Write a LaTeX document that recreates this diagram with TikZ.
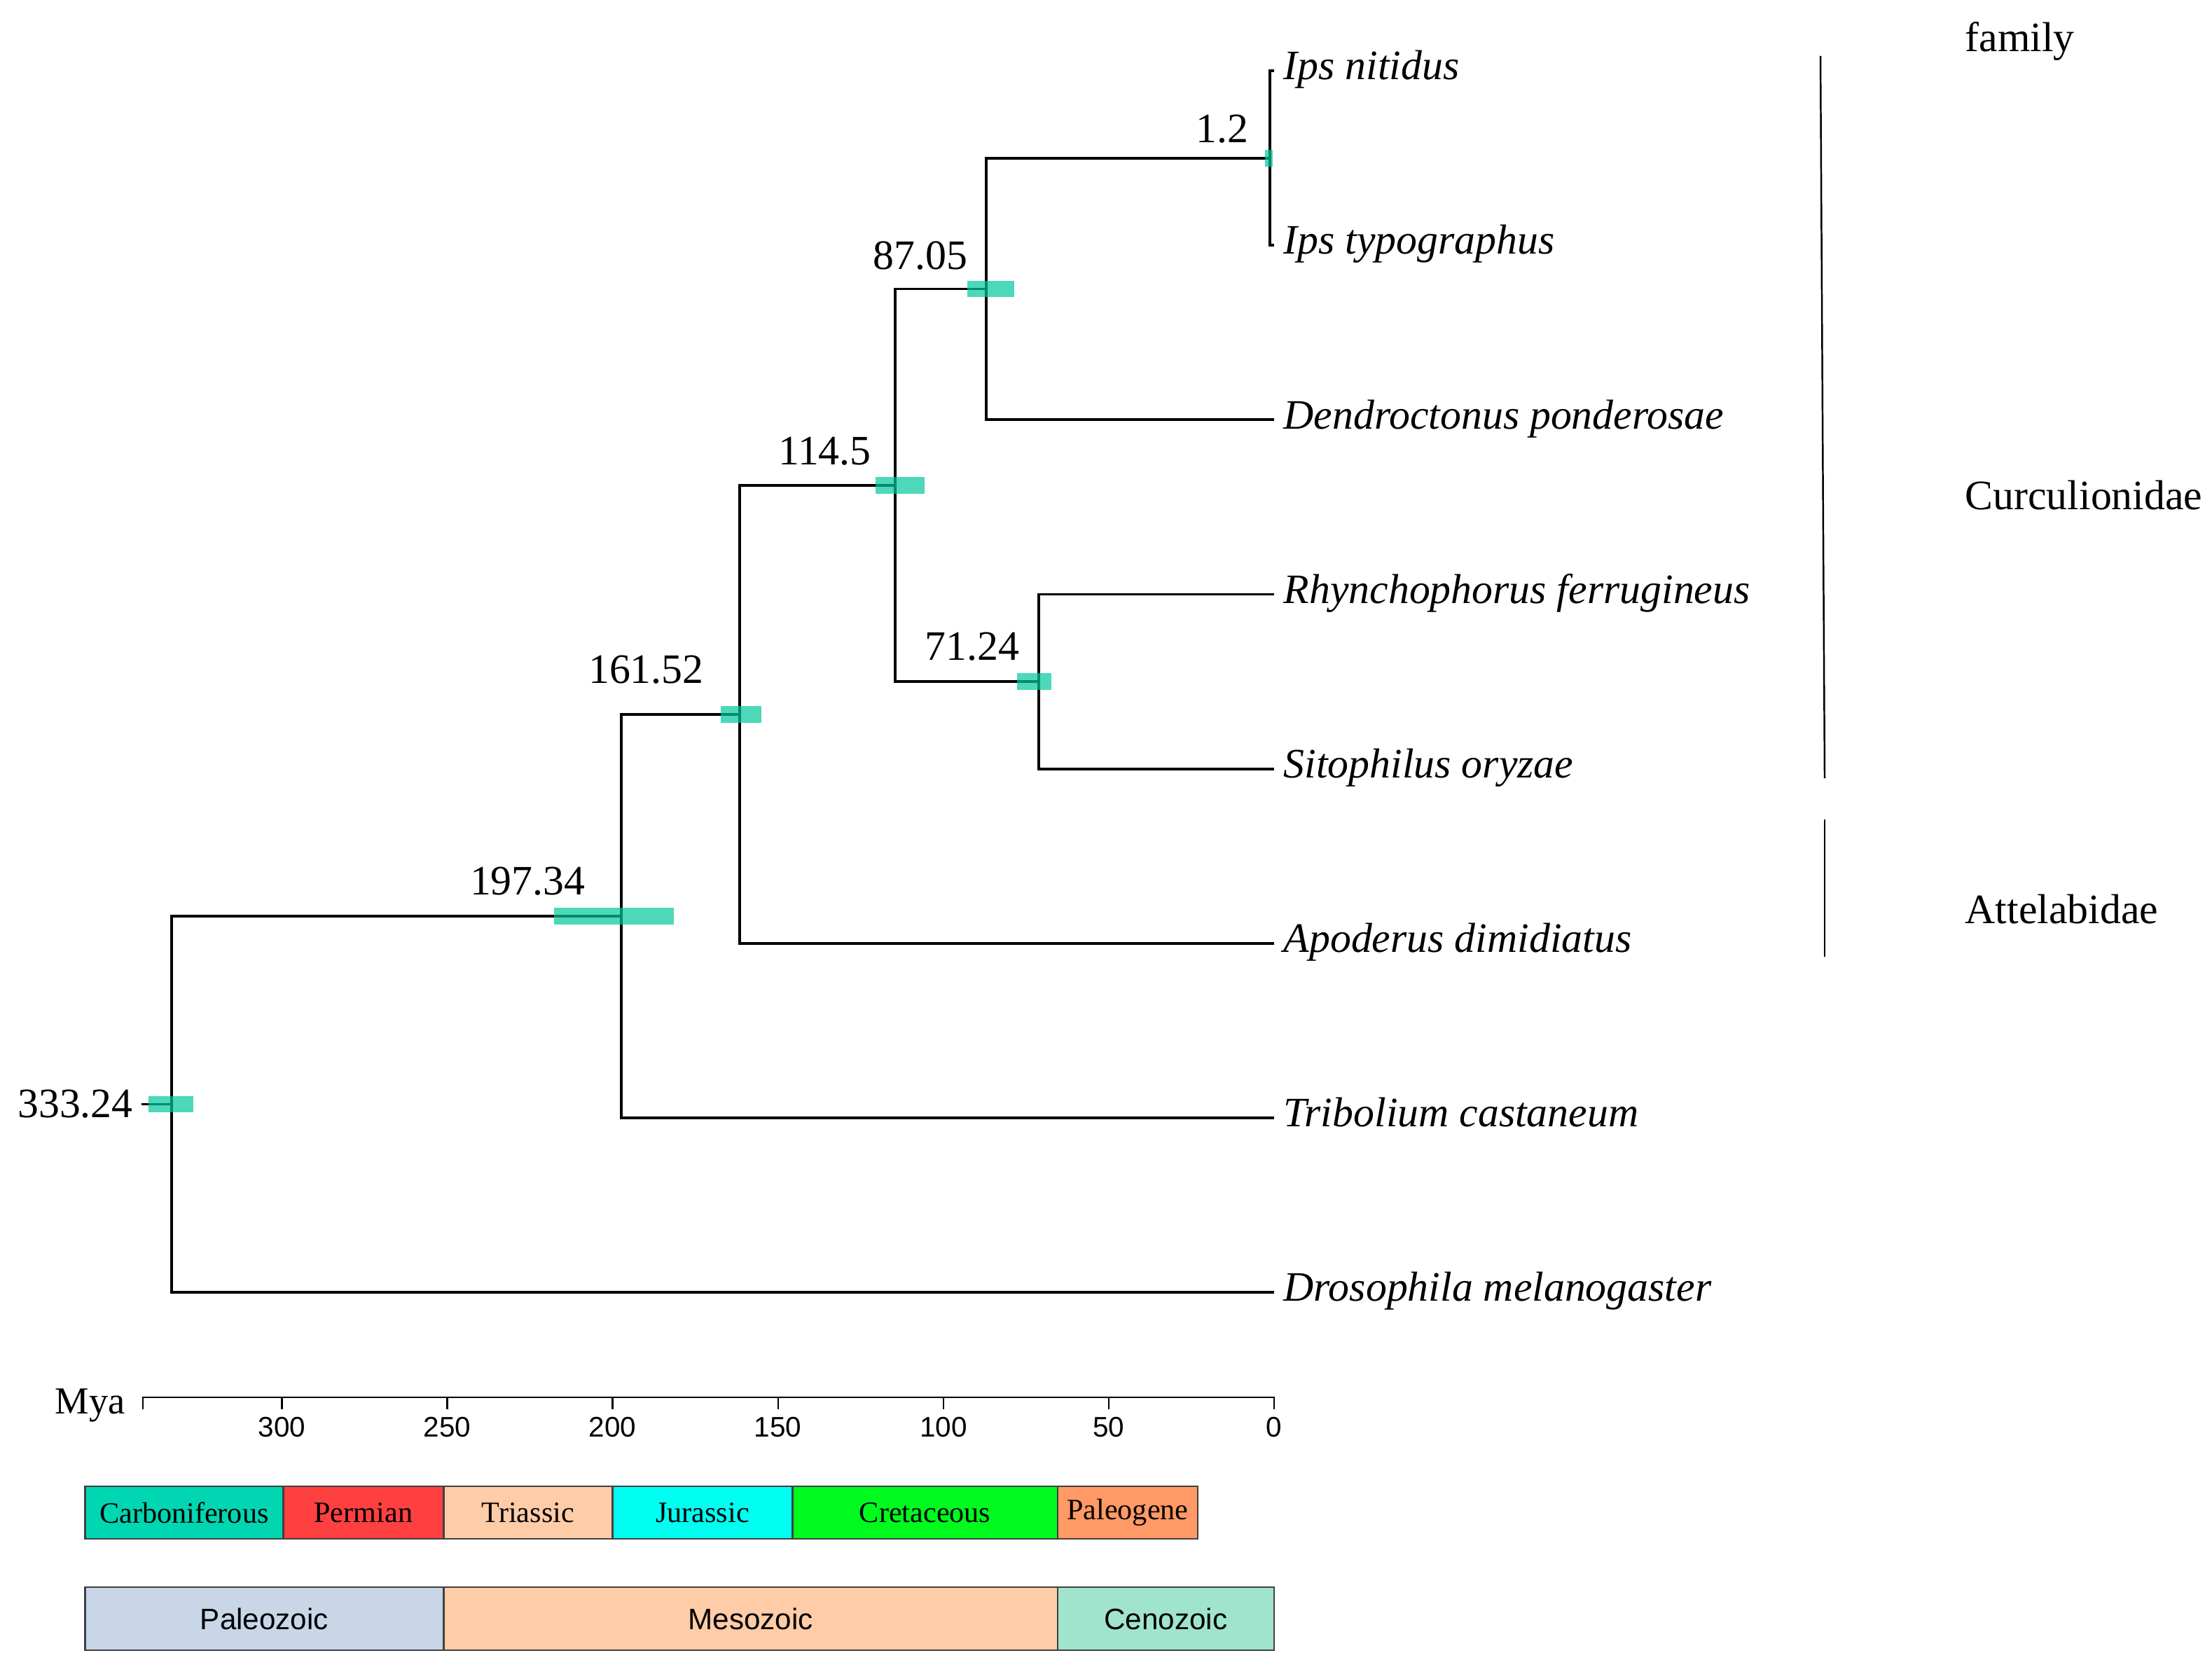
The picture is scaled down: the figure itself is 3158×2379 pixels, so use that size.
\documentclass[tikz,border=0pt]{standalone}
\usepackage{fontspec}
\setmainfont{Liberation Serif}
\setsansfont{Liberation Sans}
\usetikzlibrary{positioning}
\definecolor{hpdcol}{RGB}{0,200,155}
\definecolor{carbcol}{RGB}{0,214,178}
\definecolor{permcol}{RGB}{255,64,64}
\definecolor{triacol}{RGB}{255,204,168}
\definecolor{juracol}{RGB}{0,255,240}
\definecolor{cretcol}{RGB}{0,250,30}
\definecolor{paleocol}{RGB}{255,153,102}
\definecolor{pzcol}{RGB}{200,214,232}
\definecolor{mzcol}{RGB}{255,204,168}
\definecolor{czcol}{RGB}{160,228,206}
\definecolor{barline}{RGB}{64,64,64}

\begin{document}
\begin{tikzpicture}[x=0.01cm, y=-0.01cm]
\tikzset{
  branch/.style={line width=1.1pt},
  hpd/.style={fill=hpdcol, fill opacity=0.7},
  taxon/.style={anchor=west, inner xsep=0.13cm, inner ysep=0pt, text height=0.72em, text depth=0pt, font=\fontsize{17}{20}\selectfont\itshape},
  agelab/.style={inner sep=0pt, font=\fontsize{17}{20}\selectfont},
  famlab/.style={anchor=base west, inner sep=0pt, font=\fontsize{17}{20}\selectfont},
  ticklab/.style={anchor=base, inner sep=0pt, font=\sffamily\fontsize{11.5}{13}\selectfont},
  period/.style={draw=barline, line width=0.7pt},
  perlab/.style={font=\fontsize{12}{14}\selectfont},
  eralab/.style={font=\sffamily\fontsize{12}{14}\selectfont},
}
\useasboundingbox (0,0) rectangle (3158,2379);

\begin{scope}[shift={(18.18cm,-1.01cm)}, x=-0.0472cm, y=-2.49cm]
\node[taxon] (ipsnit) at (0,0) {Ips nitidus};
\node[taxon] (ipstyp) at (0,1) {Ips typographus};
\node[taxon] (dendro) at (0,2) {Dendroctonus ponderosae};
\node[taxon] (rhyn) at (0,3) {Rhynchophorus ferrugineus};
\node[taxon] (sito) at (0,4) {Sitophilus oryzae};
\node[taxon] (apod) at (0,5) {Apoderus dimidiatus};
\node[taxon] (trib) at (0,6) {Tribolium castaneum};
\node[taxon] (dros) at (0,7) {Drosophila melanogaster};

\coordinate (nIps) at (1.2,0.5);
\coordinate (nDen) at (87.05,1.25);
\coordinate (nSit) at (71.24,3.5);
\coordinate (nCur) at (114.5,2.375);
\coordinate (nApo) at (161.52,3.6875);
\coordinate (nTri) at (197.34,4.84375);
\coordinate (nRoot) at (333.24,5.921875);
\coordinate (rootstub) at (342.5,5.921875);

\foreach \p/\a/\b in {nIps/ipsnit.west/ipstyp.west, nDen/nIps/dendro.west,
  nSit/rhyn.west/sito.west, nCur/nDen/nSit, nApo/nCur/apod.west,
  nTri/nApo/trib.west, nRoot/nTri/dros.west}
  \draw[branch] (\a) -| (\p) |- (\b);
\draw[branch] (rootstub) -- (nRoot);

\fill[hpd] (0.4,0.452) rectangle (2.8,0.548);
\fill[hpd] (78.6,1.202) rectangle (92.8,1.298);
\fill[hpd] (67.4,3.452) rectangle (77.8,3.548);
\fill[hpd] (105.7,2.327) rectangle (120.6,2.423);
\fill[hpd] (155.1,3.6395) rectangle (167.4,3.7355);
\fill[hpd] (181.6,4.79575) rectangle (217.8,4.89175);
\fill[hpd] (326.7,5.873875) rectangle (340.3,5.969875);

\node[agelab, above left=0.21cm and 0.30cm of nIps] (lIps) {1.2};
\node[agelab, above left=0.26cm and 0.26cm of nDen] (lDen) {87.05};
\node[agelab, above left=0.29cm and 0.27cm of nSit] (lSit) {71.24};
\node[agelab, above left=0.28cm and 0.34cm of nCur] (lCur) {114.5};
\node[agelab, above left=0.43cm and 0.51cm of nApo] (lApo) {161.52};
\node[agelab, above left=0.29cm and 0.51cm of nTri] (lTri) {197.34};
\node[agelab, left=0.55cm of nRoot] (lRoot) {333.24};
\end{scope}

\begin{scope}[shift={(18.18cm,0)}, x=-0.0472cm]
\draw[line width=0.7pt] (342,2012) -- (342,1995) -- (0,1995) -- (0,2012);
\foreach \t in {0,50,...,300} {
  \draw[line width=0.7pt] (\t,1995) -- (\t,2012);
  \node[ticklab] (tick\t) at (\t,2051) {\t};
}
\node[anchor=base east, inner sep=0pt, font=\fontsize{15.5}{18}\selectfont] (mya) at (347.2,2018) {Mya};

\foreach \a/\b/\name/\col in {359.5/299.6/Carboniferous/carbcol, 299.6/251.1/Permian/permcol,
  251.1/200/Triassic/triacol, 200/145.6/Jurassic/juracol,
  145.6/65.5/Cretaceous/cretcol, 65.5/23.1/Paleogene/paleocol}
  \draw[period, fill=\col] (\a,2122) rectangle (\b,2197) node[midway, perlab] (p\name) {\name};

\foreach \a/\b/\name/\col in {359.5/251.1/Paleozoic/pzcol, 251.1/65.5/Mesozoic/mzcol, 65.5/0/Cenozoic/czcol}
  \draw[period, fill=\col] (\a,2266) rectangle (\b,2356) node[midway, eralab] (e\name) {\name};
\end{scope}

\coordinate (curtop) at (2599,80);
\coordinate (curbot) at (2605,1111);
\coordinate (atttop) at (2605,1170);
\coordinate (attbot) at (2605,1366);
\draw[line width=0.7pt] (curtop) -- (curbot);
\draw[line width=0.7pt] (atttop) -- (attbot);
\node[famlab] (family) at (2805,74) {family};
\node[famlab] (curc) at (2805,727) {Curculionidae};
\node[famlab] (attel) at (2805,1318) {Attelabidae};
\end{tikzpicture}
\end{document}
